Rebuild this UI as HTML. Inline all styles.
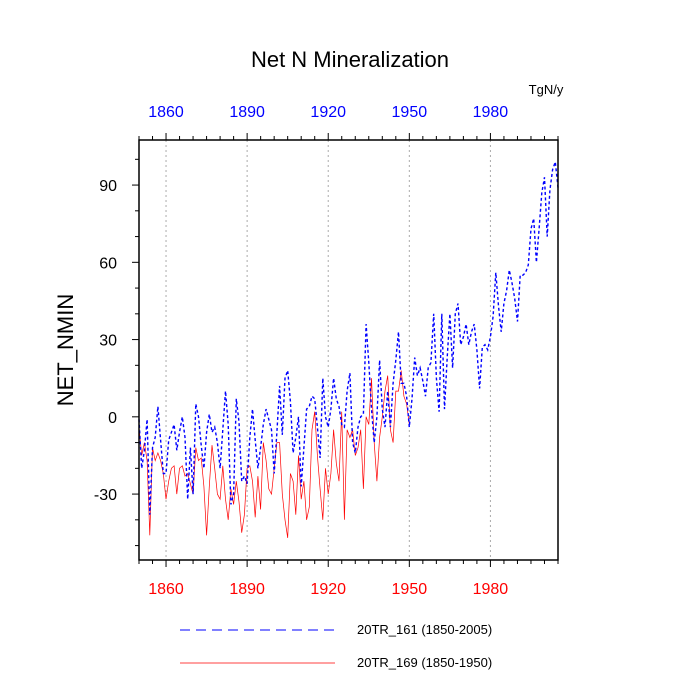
<!DOCTYPE html>
<html><head><meta charset="utf-8"><style>body{margin:0;background:#fff}svg{display:block;font-family:"Liberation Sans",sans-serif}</style></head>
<body>
<svg id="chart" width="700" height="700" viewBox="0 0 700 700">
<text x="350" y="67" font-size="22" text-anchor="middle">Net N Mineralization</text>
<text x="546" y="94" font-size="13" text-anchor="middle">TgN/y</text>
<text transform="translate(73,350) rotate(-90)" font-size="22" text-anchor="middle">NET_NMIN</text>
<g id="grid"></g><g id="series"></g><g id="axes"></g>
<g>
<line x1="180" y1="630" x2="335" y2="630" stroke="#00f" stroke-width="0.9" stroke-dasharray="10,6"/>
<text x="357" y="634" font-size="13">20TR_161 (1850-2005)</text>
<line x1="180" y1="663" x2="335" y2="663" stroke="#f00" stroke-width="0.7"/>
<text x="357" y="667" font-size="13">20TR_169 (1850-1950)</text>
</g>
</svg>
<script>
const blueStart = 1850;
const blueValues = [-1,-20,-13,-1,-38,-12,-8,4,-9,-22,-22,-9,-6,-3,-13,-6,0,-8,-32,-12,-30,5,0,-11,-20,-6,1,-6,-4,-10,-20,-5,10,-3,-34,-30,7,-2,-25,-23,-26,-8,3,-9,-20,-12,-3,3,-1,-5,-22,-6,12,-7,15,18,6,-14,-8,0,-27,-12,3,4,8,7,-4,-16,15,0,-4,3,15,7,4,-3,-4,10,17,-10,-14,-4,0,1,36,21,3,-10,0,22,3,-4,10,-4,13,22,33,13,13,8,-4,7,23,16,19,14,8,19,21,40,15,2,40,3,23,40,19,40,44,28,31,36,28,33,36,26,11,27,28,26,31,39,56,43,33,44,49,57,52,46,37,55,55,56,59,73,77,60,73,87,93,70,88,96,99,89];
const redStart = 1850;
const redValues = [-4,-15,-10,-17,-46,-12,-17,-14,-17,-22,-32,-25,-20,-19,-30,-20,-19,-23,-22,-26,-30,-12,-17,-16,-27,-46,-27,-11,-20,-30,-32,-19,-32,-40,-28,-34,-25,-33,-45,-38,-20,-19,-25,-39,-23,-36,-10,-17,-28,-30,-20,-10,-10,-30,-40,-47,-22,-25,-38,-15,-32,-25,-40,-35,-5,2,-15,-28,-40,-20,-30,-22,-5,-18,-25,2,-40,-5,-8,-5,-15,-12,-5,-28,0,-3,15,-10,-25,-8,0,10,16,-5,-10,10,10,18,8,5,-3];
const xTicks = [1860,1890,1920,1950,1980];
const yTicks = [-30,0,30,60,90];
const L=139,R=558,T=140,B=560;
const xmin=1850,xmax=2005,ymin=-55.6,ymax=107.5;
const sx=v=>L+(v-xmin)/(xmax-xmin)*(R-L);
const sy=v=>B-(v-ymin)/(ymax-ymin)*(B-T);
const NS='http://www.w3.org/2000/svg';
function mk(tag,attrs,parent){const e=document.createElementNS(NS,tag);for(const k in attrs)e.setAttribute(k,attrs[k]);parent.appendChild(e);return e;}
const grid=document.getElementById('grid'),ser=document.getElementById('series'),ax=document.getElementById('axes');
xTicks.forEach(t=>{const g=mk('line',{x1:sx(t),x2:sx(t),y1:T,y2:B,stroke:'#aaa','stroke-width':1,'stroke-dasharray':'2,3'},grid);

});
function pts(start,vals){return vals.map((v,i)=>sx(start+i).toFixed(1)+','+sy(v).toFixed(1)).join(' ');}
const rl=mk('polyline',{points:pts(redStart,redValues),fill:'none',stroke:'#f00','stroke-width':0.7},ser);


const bl=mk('polyline',{points:pts(blueStart,blueValues),fill:'none',stroke:'#00f','stroke-width':1.4,'stroke-dasharray':'3,2.5'},ser);


const fr=mk('rect',{x:L,y:T,width:R-L,height:B-T,fill:'none',stroke:'#000','stroke-width':1.5},ax);


for(let y=1850;y<=2005;y+=5){const major=xTicks.includes(y);const len=major?7:4;
mk('line',{x1:sx(y),x2:sx(y),y1:B,y2:B+len,stroke:'#000','stroke-width':1},ax);
mk('line',{x1:sx(y),x2:sx(y),y1:T,y2:T-len,stroke:'#000','stroke-width':1},ax);}
xTicks.forEach(t=>{const b=mk('text',{x:sx(t),y:B+34,'font-size':16,'text-anchor':'middle',fill:'#f00'},ax);b.textContent=t;


const tp=mk('text',{x:sx(t),y:T-23,'font-size':16,'text-anchor':'middle',fill:'#00f'},ax);tp.textContent=t;

});
for(let v=-50;v<=105;v+=10){const major=yTicks.includes(v);if(major)continue;mk('line',{x1:L,x2:L-4,y1:sy(v),y2:sy(v),stroke:'#000','stroke-width':1},ax);}
yTicks.forEach(t=>{mk('line',{x1:L,x2:L-7,y1:sy(t),y2:sy(t),stroke:'#000','stroke-width':1},ax);
const lb=mk('text',{x:L-22,y:sy(t)+6,'font-size':16,'text-anchor':'end'},ax);lb.textContent=t;

});
</script>
</body></html>
